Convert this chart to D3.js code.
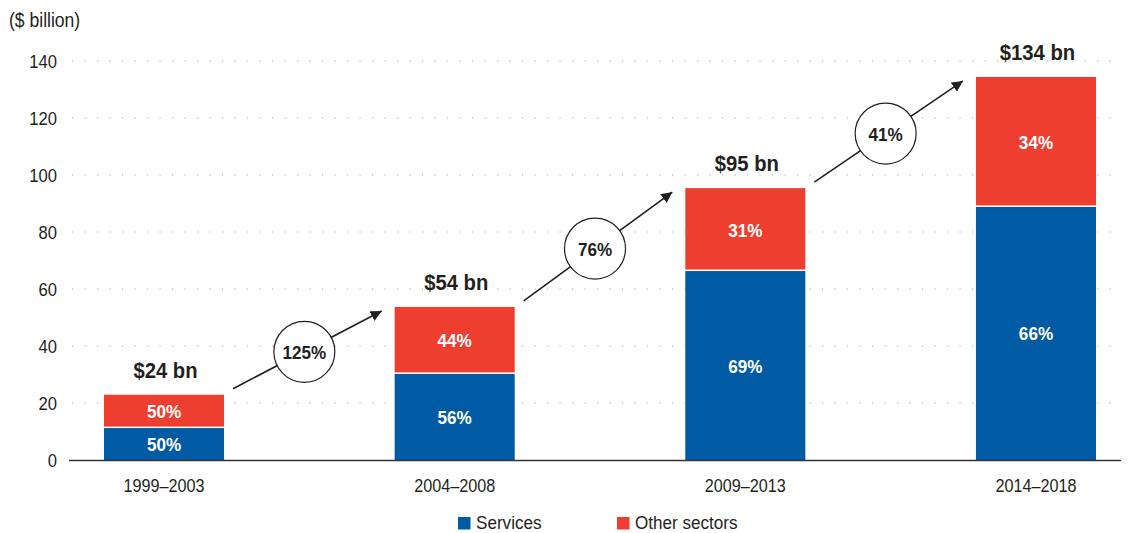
<!DOCTYPE html>
<html><head><meta charset="utf-8">
<script src="https://cdn.jsdelivr.net/npm/d3@7"></script>
<style>
body{margin:0;background:#fff;}
svg{display:block;font-family:"Liberation Sans","Arial",sans-serif;}
</style></head><body>
<svg id="c" width="1132" height="533"></svg>
<script>
const categories = ["1999–2003","2004–2008","2009–2013","2014–2018"];
const services = [11.2, 30.2, 66.3, 88.8];
const others = [11.7, 23.5, 29.1, 45.6];
const servicesPct = ["50%","56%","69%","66%"];
const othersPct = ["50%","44%","31%","34%"];
const totalLabels = ["$24 bn","$54 bn","$95 bn","$134 bn"];
const growthLabels = ["125%","76%","41%"];
const yTicks = [0,20,40,60,80,100,120,140];
const seriesNames = ["Services","Other sectors"];
const colors = ["#005ba4","#ee3e2f"];

const svg = d3.select("#c");
const ink = "#231f20";
const SX = 0.9; // condensed look
const place = (fx, fy) => (d,i) => `translate(${fx(d,i)},${fy(d,i)}) scale(${SX},1)`;

const x = d3.scaleBand().domain(categories).range([70,1130]).paddingInner(0.587).paddingOuter(0.117);
const y = d3.scaleLinear().domain([0,140]).range([460,61]);

// grid
svg.append("g").selectAll("line").data(yTicks.filter(d=>d>0)).join("line")
  .attr("x1",72).attr("x2",1122).attr("y1",d=>y(d)).attr("y2",d=>y(d))
  .attr("stroke","#a5a5a5").attr("stroke-width",1.2).attr("stroke-dasharray","1.2,11.3");

// y tick labels
svg.append("g").selectAll("text").data(yTicks).join("text")
  .attr("transform",place(()=>57,d=>y(d)+7)).attr("text-anchor","end")
  .attr("font-size",18.5).attr("fill",ink).text(d=>d);

svg.append("text").attr("transform",`translate(9,27) scale(${SX},1)`).attr("font-size",19.5).attr("fill",ink).text("($ billion)");

const data = categories.map((c,i)=>({c,s:services[i],o:others[i],sp:servicesPct[i],op:othersPct[i],t:totalLabels[i]}));
const cx = d => x(d.c)+x.bandwidth()/2;

const g = svg.append("g");
g.selectAll("rect.s").data(data).join("rect").attr("class","s")
  .attr("x",d=>x(d.c)).attr("width",x.bandwidth())
  .attr("y",d=>y(d.s)).attr("height",d=>y(0)-y(d.s)).attr("fill",colors[0]);
g.selectAll("rect.o").data(data).join("rect").attr("class","o")
  .attr("x",d=>x(d.c)).attr("width",x.bandwidth())
  .attr("y",d=>y(d.s+d.o)).attr("height",d=>y(d.s)-y(d.s+d.o)-1.5).attr("fill",colors[1]);

g.selectAll("text.sp").data(data).join("text")
  .attr("transform",place(cx,d=>(y(0)+y(d.s))/2+7))
  .attr("text-anchor","middle").attr("font-size",19).attr("font-weight","bold").attr("fill","#fff").text(d=>d.sp);
g.selectAll("text.op").data(data).join("text")
  .attr("transform",place(cx,d=>(y(d.s)+y(d.s+d.o))/2+7))
  .attr("text-anchor","middle").attr("font-size",19).attr("font-weight","bold").attr("fill","#fff").text(d=>d.op);
g.selectAll("text.t").data(data).join("text")
  .attr("transform",place(d=>cx(d)+1.5,d=>y(d.s+d.o)-17))
  .attr("text-anchor","middle").attr("font-size",22.5).attr("font-weight","bold").attr("fill",ink).text(d=>d.t);

// axis
svg.append("line").attr("x1",69).attr("x2",1121).attr("y1",y(0)+0.5).attr("y2",y(0)+0.5)
  .attr("stroke","#333").attr("stroke-width",1.5);
svg.append("g").selectAll("text").data(categories).join("text")
  .attr("transform",place(d=>x(d)+x.bandwidth()/2,()=>492)).attr("text-anchor","middle")
  .attr("font-size",18).attr("fill",ink).text(d=>d);

// arrows
svg.append("defs").append("marker").attr("id","ah").attr("viewBox","0 0 10 10")
  .attr("refX",10).attr("refY",5).attr("markerWidth",11).attr("markerHeight",11)
  .attr("markerUnits","userSpaceOnUse").attr("orient","auto")
  .append("path").attr("d","M0,0L10,5L0,10Z").attr("fill",ink);
const arrows = growthLabels.map((lab,i)=>{
  const x1 = x(categories[i])+x.bandwidth()+9, y1 = y(services[i]+others[i])-6;
  const x2 = x(categories[i+1])-13, y2 = y(services[i+1]+others[i+1])+4;
  return {lab,x1,y1,x2,y2,cx:(x1+x2)/2-3,cy:(y1+y2)/2+2};
});
const ag = svg.append("g");
ag.selectAll("line").data(arrows).join("line")
  .attr("x1",d=>d.x1).attr("y1",d=>d.y1).attr("x2",d=>d.x2).attr("y2",d=>d.y2)
  .attr("stroke",ink).attr("stroke-width",1.6).attr("marker-end","url(#ah)");
ag.selectAll("circle").data(arrows).join("circle")
  .attr("cx",d=>d.cx).attr("cy",d=>d.cy).attr("r",30.5)
  .attr("fill","#fff").attr("stroke",ink).attr("stroke-width",1.2);
ag.selectAll("text").data(arrows).join("text")
  .attr("transform",place(d=>d.cx,d=>d.cy+7)).attr("text-anchor","middle")
  .attr("font-size",19).attr("font-weight","bold").attr("fill",ink).text(d=>d.lab);

// legend
const lg = svg.append("g");
const lx = [458,617];
seriesNames.forEach((n,i)=>{
  lg.append("rect").attr("x",lx[i]).attr("y",517).attr("width",12.5).attr("height",12.5).attr("fill",colors[i]);
  lg.append("text").attr("transform",`translate(${lx[i]+18},529) scale(${SX},1)`).attr("font-size",19).attr("fill",ink).text(n);
});
</script></body></html>
